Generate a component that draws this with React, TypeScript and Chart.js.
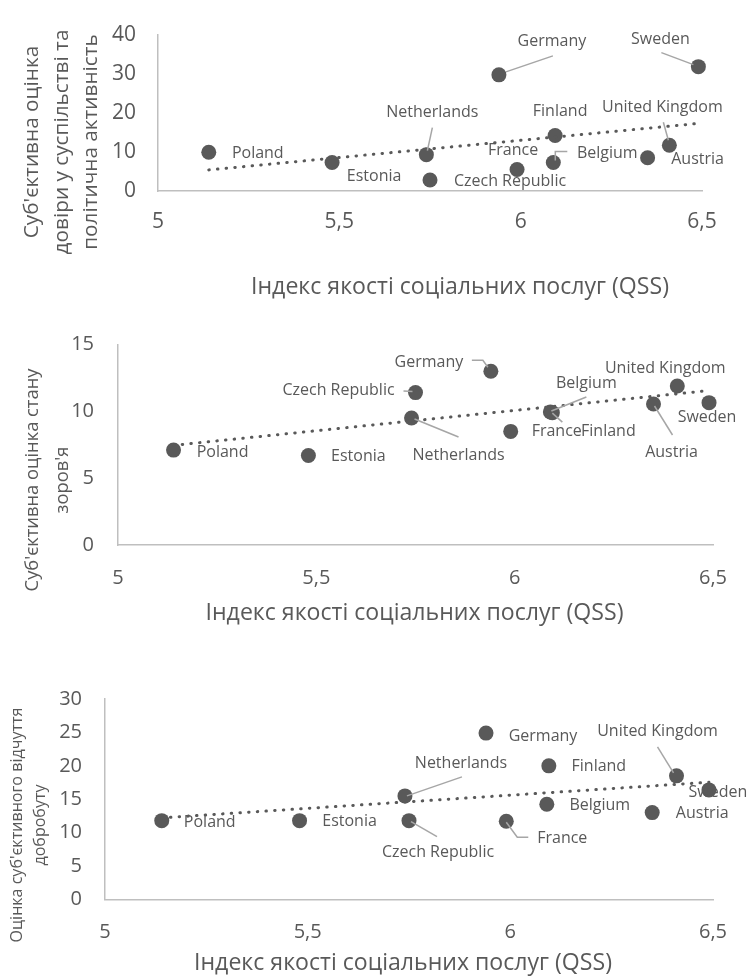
import React, { useEffect, useRef } from 'react';
import { Chart, registerables } from 'chart.js';

Chart.register(...registerables);

// ---------- data ----------
const countries = ['Poland', 'Estonia', 'Netherlands', 'Czech Republic', 'Germany', 'France', 'Belgium', 'Finland', 'Austria', 'United Kingdom', 'Sweden'];
const qssIndex = [5.14, 5.48, 5.74, 5.75, 5.94, 5.99, 6.09, 6.095, 6.35, 6.41, 6.49];
const trustValues = [9.9, 7.3, 9.3, 2.8, 29.7, 5.5, 7.3, 14.2, 8.5, 11.7, 31.8];
const healthValues = [7.1, 6.7, 9.5, 11.4, 13.0, 8.5, 9.95, 9.9, 10.55, 11.9, 10.65];
const wellbeingValues = [11.8, 11.8, 15.5, 11.8, 24.9, 11.7, 14.25, 20.0, 13.0, 18.5, 16.4];

const xTicks = [5, 5.5, 6, 6.5];
const trustTicks = [0, 10, 20, 30, 40];
const healthTicks = [0, 5, 10, 15];
const wellbeingTicks = [0, 5, 10, 15, 20, 25, 30];

const xTitle = 'Індекс якості соціальних послуг (QSS)';
const trustTitle = ["Суб'єктивна оцінка", 'довіри у суспільстві та', 'політична активність'];
const healthTitle = ["Суб'єктивна оцінка стану", "зоров'я"];
const wellbeingTitle = ["Оцінка суб'єктивного відчуття", 'добробуту'];

// ---------- label placement (pixels relative to each point) ----------
const trustLabelOffsets = [[49, 1], [42, 14], [6, -42], [80, 1], [53, -33], [-4, -19], [54, -9], [5, -24], [50, 2], [-7, -38], [-38, -27]];
const healthLabelOffsets = [[49, 2], [50, 1], [47, 37], [-77, -2], [-62, -9], [46, 0], [36, -29], [56, 19], [18, 48], [-12, -17], [-2, 15]];
const wellbeingLabelOffsets = [[48, 2], [50, 1], [56, -32], [29, 32], [57, 3], [56, 17], [53, 1], [50, 1], [50, 1], [-19, -44], [9, 3]];

const trustLeaders: Record<string, number[][]> = {
  Netherlands: [[6, -27], [1, -4]],
  Germany: [[54, -19], [7, -3]],
  Sweden: [[-37, -14], [-5, -2]],
  Belgium: [[14, -11], [2, -11], [2, -2]],
  'United Kingdom': [[-6, -23], [-1, -5]],
};
const healthLeaders: Record<string, number[][]> = {
  'Czech Republic': [[-12, -1.5], [-3, -1]],
  Germany: [[-19, -11], [-8, -11], [-3, -4]],
  Netherlands: [[47, 19], [3, 1]],
  Finland: [[10, 9.5], [0, 0.5]],
  Belgium: [[36, -15], [1, -1]],
  Austria: [[19, 31], [1, 2]],
};
const wellbeingLeaders: Record<string, number[][]> = {
  Netherlands: [[57, -19], [2, 0]],
  'Czech Republic': [[28, 16], [2, 1]],
  France: [[22, 16], [11, 16], [0, 1]],
  'United Kingdom': [[-19, -29], [-3, -3]],
};

const FONT = "'Open Sans', sans-serif";
const GREY = '#595959';
const W = 751;

function fmt(v: number) {
  return String(v).replace('.', ',');
}

function linearFit(xs: number[], ys: number[]) {
  const n = xs.length;
  const mx = xs.reduce((a, b) => a + b, 0) / n;
  const my = ys.reduce((a, b) => a + b, 0) / n;
  let sxy = 0, sxx = 0;
  for (let i = 0; i < n; i++) {
    sxy += (xs[i] - mx) * (ys[i] - my);
    sxx += (xs[i] - mx) * (xs[i] - mx);
  }
  const b = sxy / sxx;
  return { a: my - b * mx, b };
}

function fitSize(ctx: CanvasRenderingContext2D, text: string, target: number) {
  ctx.font = `100px ${FONT}`;
  const w = ctx.measureText(text).width;
  return (100 * target) / w;
}

type Spec = {
  values: number[];
  yTicks: number[];
  yTitle: string[];
  labelOffsets: number[][];
  leaders: Record<string, number[][]>;
  top: number;
  height: number;
  areaLeft: number;
  areaRight: number;
  areaTop: number;
  areaBottom: number;
  yGap: number;
  xLabelCenter: number;
  tickSize: number;
  xTitlePos: number[];
  yTitleXs: number[];
  yTitleCy: number;
  yTitleFitLine: number;
  yTitleFitWidth: number;
};

const specs: Spec[] = [
  {
    values: trustValues, yTicks: trustTicks, yTitle: trustTitle, labelOffsets: trustLabelOffsets, leaders: trustLeaders,
    top: 0, height: 300, areaLeft: 158, areaRight: 702, areaTop: 22, areaBottom: 191, yGap: 22, xLabelCenter: 222, tickSize: 21,
    xTitlePos: [460, 287], yTitleXs: [32, 62, 91], yTitleCy: 142, yTitleFitLine: 1, yTitleFitWidth: 225,
  },
  {
    values: healthValues, yTicks: healthTicks, yTitle: healthTitle, labelOffsets: healthLabelOffsets, leaders: healthLeaders,
    top: 300, height: 340, areaLeft: 118, areaRight: 713, areaTop: 44.5, areaBottom: 245, yGap: 24, xLabelCenter: 278, tickSize: 20,
    xTitlePos: [414.5, 313], yTitleXs: [33, 63], yTitleCy: 180, yTitleFitLine: 0, yTitleFitWidth: 223,
  },
  {
    values: wellbeingValues, yTicks: wellbeingTicks, yTitle: wellbeingTitle, labelOffsets: wellbeingLabelOffsets, leaders: wellbeingLeaders,
    top: 640, height: 339, areaLeft: 105, areaRight: 713, areaTop: 59, areaBottom: 259.5, yGap: 23, xLabelCenter: 292, tickSize: 20,
    xTitlePos: [403, 323], yTitleXs: [17, 40], yTitleCy: 185, yTitleFitLine: 0, yTitleFitWidth: 235,
  },
];

function buildChart(canvas: HTMLCanvasElement, s: Spec) {
  const points = qssIndex.map((x, i) => ({ x, y: s.values[i] }));
  const minX = Math.min(...qssIndex);
  const maxX = Math.max(...qssIndex);
  const f = linearFit(qssIndex, s.values);
  const trend = [
    { x: minX, y: f.a + f.b * minX },
    { x: maxX, y: f.a + f.b * maxX },
  ];

  const annotate = {
    id: 'annotate',
    afterDatasetsDraw(chart: any) {
      const ctx: CanvasRenderingContext2D = chart.ctx;
      const meta = chart.getDatasetMeta(1);
      ctx.save();
      ctx.strokeStyle = '#a6a6a6';
      ctx.lineWidth = 1.5;
      countries.forEach((c, i) => {
        const el = meta.data[i];
        const leader = s.leaders[c];
        if (!leader) return;
        ctx.beginPath();
        leader.forEach(([dx, dy], k) => {
          if (k === 0) ctx.moveTo(el.x + dx, el.y + dy);
          else ctx.lineTo(el.x + dx, el.y + dy);
        });
        ctx.stroke();
      });
      ctx.fillStyle = GREY;
      ctx.font = `16px ${FONT}`;
      ctx.textAlign = 'center';
      ctx.textBaseline = 'middle';
      countries.forEach((c, i) => {
        const el = meta.data[i];
        const [dx, dy] = s.labelOffsets[i];
        ctx.fillText(c, el.x + dx, el.y + dy);
      });
      ctx.restore();
    },
    afterDraw(chart: any) {
      const ctx: CanvasRenderingContext2D = chart.ctx;
      ctx.save();
      ctx.fillStyle = GREY;
      ctx.textAlign = 'center';
      ctx.textBaseline = 'middle';
      const xs = fitSize(ctx, xTitle, 418);
      ctx.font = `${xs}px ${FONT}`;
      ctx.fillText(xTitle, s.xTitlePos[0], s.xTitlePos[1]);
      const ys = fitSize(ctx, s.yTitle[s.yTitleFitLine], s.yTitleFitWidth);
      ctx.font = `${ys}px ${FONT}`;
      s.yTitle.forEach((line, i) => {
        ctx.save();
        ctx.translate(s.yTitleXs[i], s.yTitleCy);
        ctx.rotate(-Math.PI / 2);
        ctx.fillText(line, 0, 0);
        ctx.restore();
      });
      ctx.restore();
    },
  };

  return new Chart(canvas, {
    type: 'scatter',
    data: {
      datasets: [
        {
          data: trend,
          showLine: true,
          borderColor: GREY,
          borderWidth: 3,
          borderDash: [0.5, 8.2],
          borderCapStyle: 'round',
          pointRadius: 0,
          pointHoverRadius: 0,
          clip: false,
        } as any,
        {
          data: points,
          pointRadius: 7.5,
          pointHoverRadius: 7.5,
          pointBackgroundColor: GREY,
          pointBorderWidth: 0,
          backgroundColor: GREY,
          borderColor: GREY,
          clip: false,
        } as any,
      ],
    },
    options: {
      responsive: false,
      maintainAspectRatio: false,
      animation: false,
      events: [],
      layout: { padding: { top: s.areaTop, right: W - s.areaRight, left: 0, bottom: 0 } },
      plugins: { legend: { display: false }, tooltip: { enabled: false } },
      scales: {
        x: {
          type: 'linear',
          min: xTicks[0],
          max: xTicks[xTicks.length - 1],
          grid: { display: false, drawTicks: false },
          border: { display: true, color: '#bfbfbf', width: 1.5 },
          ticks: {
            color: GREY,
            font: { family: FONT, size: s.tickSize },
            padding: s.xLabelCenter - s.areaBottom - (s.tickSize * 1.2) / 2,
            maxRotation: 0,
            autoSkip: false,
            callback: (v: any) => fmt(Number(v)),
          },
          afterBuildTicks: (scale: any) => {
            scale.ticks = xTicks.map((v) => ({ value: v }));
          },
          afterFit: (scale: any) => {
            scale.height = s.height - s.areaBottom;
          },
        },
        y: {
          type: 'linear',
          min: s.yTicks[0],
          max: s.yTicks[s.yTicks.length - 1],
          grid: { display: false, drawTicks: false },
          border: { display: true, color: '#bfbfbf', width: 1.5 },
          ticks: {
            color: GREY,
            font: { family: FONT, size: s.tickSize },
            padding: s.yGap,
            autoSkip: false,
            callback: (v: any) => fmt(Number(v)),
          },
          afterBuildTicks: (scale: any) => {
            scale.ticks = s.yTicks.map((v) => ({ value: v }));
          },
          afterFit: (scale: any) => {
            scale.width = s.areaLeft;
          },
        },
      },
    } as any,
    plugins: [annotate],
  });
}

function Panel({ spec }: { spec: Spec }) {
  const ref = useRef<HTMLCanvasElement>(null);
  useEffect(() => {
    const chart = buildChart(ref.current!, spec);
    return () => chart.destroy();
  }, [spec]);
  return (
    <canvas
      ref={ref}
      width={W}
      height={spec.height}
      style={{ position: 'absolute', left: 0, top: spec.top, width: W, height: spec.height, display: 'block' }}
    />
  );
}

export default function App() {
  return (
    <div style={{ position: 'absolute', left: 0, top: 0, width: W, height: 979, background: '#ffffff' }}>
      {specs.map((s, i) => (
        <Panel key={i} spec={s} />
      ))}
    </div>
  );
}
